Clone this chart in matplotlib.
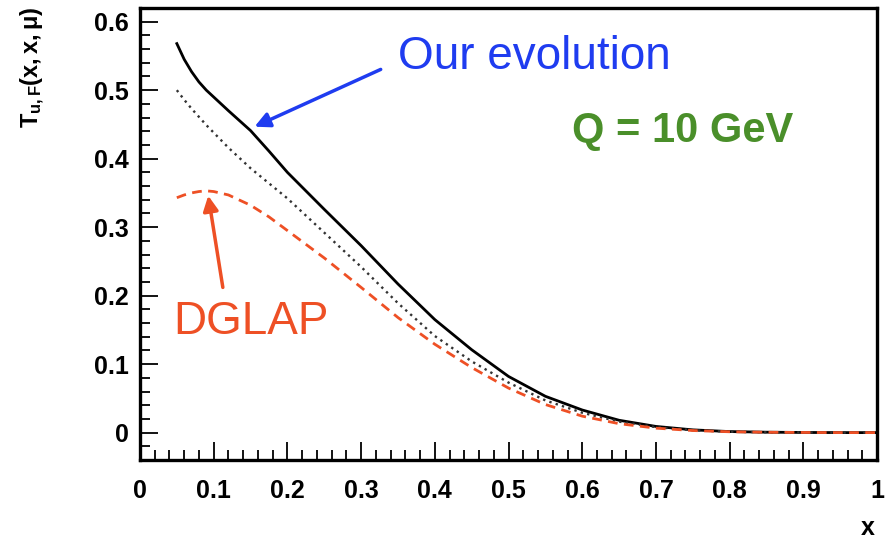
import numpy as np
import matplotlib
matplotlib.use('Agg')
import matplotlib.pyplot as plt
from matplotlib.ticker import MultipleLocator

plt.rcParams['font.family'] = ['Liberation Sans', 'DejaVu Sans']
plt.rcParams['mathtext.fontset'] = 'custom'
plt.rcParams['mathtext.rm'] = 'Liberation Sans'
plt.rcParams['mathtext.bf'] = 'Liberation Sans:bold'
plt.rcParams['mathtext.it'] = 'Liberation Sans:italic'

# values
x = [0.05, 0.06, 0.07, 0.08, 0.09, 0.10, 0.12, 0.15, 0.175, 0.20, 0.25, 0.30, 0.35,
     0.40, 0.45, 0.50, 0.55, 0.60, 0.65, 0.70, 0.75, 0.80, 0.85, 0.90, 0.95, 1.0]
our_evol = [0.568, 0.545, 0.527, 0.512, 0.500, 0.490, 0.470, 0.441, 0.411, 0.380, 0.326,
            0.273, 0.217, 0.165, 0.121, 0.082, 0.053, 0.033, 0.018, 0.009, 0.004,
            0.0015, 0.0006, 0.0002, 0.0, 0.0]
dotted = [0.500, 0.486, 0.473, 0.461, 0.449, 0.438, 0.416, 0.386, 0.364, 0.342, 0.292,
          0.242, 0.189, 0.141, 0.104, 0.073, 0.047, 0.029, 0.016, 0.008, 0.0035,
          0.0013, 0.0005, 0.0002, 0.0, 0.0]
dglap = [0.343, 0.347, 0.350, 0.352, 0.353, 0.352, 0.347, 0.332, 0.315, 0.295, 0.255,
         0.212, 0.168, 0.129, 0.095, 0.065, 0.041, 0.024, 0.013, 0.0065, 0.003,
         0.0012, 0.0005, 0.0002, 0.0, 0.0]

fig = plt.figure(figsize=(8.95, 5.48), dpi=100)
ax = fig.add_axes([0.1564, 0.1606, 0.8236, 0.8248])

ax.plot(x, our_evol, color='black', lw=2.0)
ax.plot(x, dotted, color='#333333', lw=1.7, linestyle=(0, (1, 1.8)))
ax.plot(x, dglap, color='#ee5025', lw=2.0, linestyle=(0, (3.5, 2.3)))

ax.set_xlim(0, 1)
ax.set_ylim(-0.04, 0.62)
ax.xaxis.set_minor_locator(MultipleLocator(0.02))
ax.yaxis.set_minor_locator(MultipleLocator(0.02))
ax.set_xticks(np.arange(0, 1.01, 0.1))
ax.set_xticklabels(['0', '0.1', '0.2', '0.3', '0.4', '0.5', '0.6', '0.7', '0.8', '0.9', '1'])
ax.set_yticks(np.arange(0, 0.61, 0.1))
ax.set_yticklabels(['0', '0.1', '0.2', '0.3', '0.4', '0.5', '0.6'])

ax.tick_params(which='major', direction='in', length=13, width=1.3, labelsize=18)
ax.tick_params(which='minor', direction='in', length=7, width=1.3)
ax.tick_params(axis='y', which='major', pad=8)
ax.tick_params(axis='x', which='major', pad=14)
for lab in ax.get_xticklabels() + ax.get_yticklabels():
    lab.set_fontweight('bold')
for s in ax.spines.values():
    s.set_linewidth(2.4)

fig.text(0.037, 0.988, r'$\mathbf{T_{u,F}(x,x,\mu)}$', rotation=90, ha='center', va='top', fontsize=17)
fig.text(0.97, 0.036, 'x', ha='center', va='center', fontsize=18, fontweight='bold')

ax.annotate('', xy=(0.152, 0.445), xytext=(0.33, 0.532),
            arrowprops=dict(arrowstyle='-|>,head_length=0.9,head_width=0.45', color='#1f3cf0', lw=2.5))
ax.annotate('', xy=(0.092, 0.35), xytext=(0.113, 0.208),
            arrowprops=dict(arrowstyle='-|>,head_length=0.9,head_width=0.45', color='#ee5025', lw=2.5))

ax.text(0.35, 0.548, 'Our evolution', color='#1f3cf0', fontsize=33, va='center')
ax.text(0.586, 0.44, 'Q = 10 GeV', color='#4a8f2a', fontsize=30, fontweight='bold', va='center')
ax.text(0.045, 0.162, 'DGLAP', color='#ee5025', fontsize=33, va='center')

fig.savefig('out.png', dpi=100)
